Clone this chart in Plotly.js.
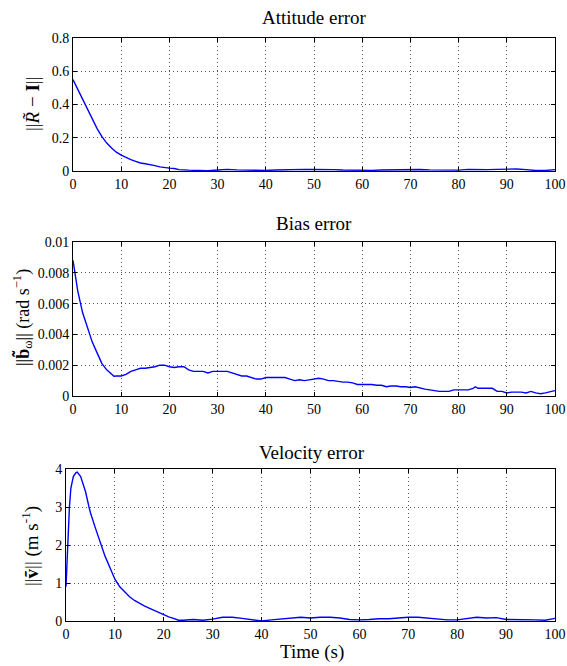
<!DOCTYPE html>
<html><head><meta charset="utf-8">
<script src="https://cdn.plot.ly/plotly-3.0.1.min.js"></script>
<style>html,body{margin:0;padding:0;background:#fff}#c{width:567px;height:666px}</style>
</head><body><div id="c"></div>
<script>
const attT = [0,1,2,3,4,5,6,7,8,9,10,11,12,13,14,15,16,17,18,19,20,21,22,24,26,28,30,32,34,36,38,40,42,44,46,48,50,52,54,56,58,60,62,64,66,68,70,72,74,76,78,80,82,84,86,88,90,92,94,96,98,100];
const attV = [0.55,0.49,0.43,0.37,0.31,0.255,0.207,0.168,0.138,0.113,0.095,0.08,0.068,0.058,0.048,0.044,0.040,0.032,0.025,0.020,0.017,0.015,0.008,0.005,0.004,0.002,0.006,0.010,0.007,0.005,0.003,0.003,0.006,0.008,0.012,0.010,0.009,0.010,0.008,0.006,0.004,0.003,0.004,0.006,0.007,0.009,0.010,0.009,0.007,0.005,0.004,0.005,0.010,0.008,0.008,0.010,0.012,0.012,0.008,0.003,0.003,0.008];

const biasT = [0,0.5,1,2,3,4,5,6,7,8,8.5,9,10,11,12,13,14,15,16,17,18,19,20,21,22,23,24,25,26,27,28,29,30,31,32,33,34,35,36,37,38,39,40,42,44,45,46,47,48,49,50,51,52,53,54,55,56,57,58,59,60,62,63,64,65,66,67,68,69,70,71,72,73,74,75,76,78,79,80,82,83,83.5,84,85,86,87,88,89,90,91,92,93,94,95,96,97,98,99,100];
const biasV = [0.0088,0.0079,0.0068,0.0054,0.0044,0.0035,0.0028,0.0021,0.0017,0.0014,0.00128,0.0013,0.0013,0.0014,0.0016,0.0017,0.0018,0.0018,0.00185,0.0019,0.0020,0.0020,0.0019,0.00185,0.0019,0.0019,0.0017,0.0016,0.0016,0.0016,0.0015,0.0016,0.0016,0.0016,0.0016,0.0015,0.0014,0.0013,0.0013,0.0012,0.0011,0.0011,0.0012,0.0012,0.0012,0.0011,0.0010,0.00105,0.0010,0.00105,0.0011,0.00115,0.0011,0.0010,0.0010,0.00095,0.0009,0.0009,0.00085,0.00075,0.00075,0.00075,0.0007,0.0007,0.0006,0.00065,0.00065,0.0006,0.0006,0.00055,0.0006,0.0005,0.00045,0.0004,0.00035,0.0003,0.0003,0.0004,0.0004,0.0004,0.0005,0.0006,0.0005,0.0005,0.0005,0.0005,0.0003,0.0003,0.0002,0.00025,0.00025,0.00025,0.0002,0.0003,0.0002,0.00015,0.0002,0.0003,0.00035];

const velT = [0,0.3,0.7,1,1.5,2,2.3,3,4,4.7,5,6,7,8,9,10,11,12,13,14,15,16,17,18,19,20,21,22,23,24,26,28,30,32,34,36,38,40,42,44,46,48,50,52,54,56,58,60,62,64,66,68,70,72,74,76,78,80,82,84,86,88,90,92,94,96,98,100];
const velV = [0.9,2.0,3.0,3.5,3.8,3.9,3.92,3.8,3.4,3.0,2.85,2.45,2.05,1.7,1.4,1.1,0.9,0.76,0.64,0.54,0.46,0.40,0.34,0.28,0.22,0.16,0.11,0.07,0.02,0.02,0.04,0.02,0.05,0.10,0.10,0.07,0.03,0.0,0.03,0.05,0.08,0.10,0.08,0.10,0.10,0.08,0.04,0.03,0.04,0.06,0.06,0.08,0.10,0.10,0.08,0.06,0.03,0.03,0.07,0.10,0.08,0.09,0.04,0.04,0.03,0.03,0.02,0.07];

const xTicks = [0,10,20,30,40,50,60,70,80,90,100];
const attTicks = [0,0.2,0.4,0.6,0.8];
const attTickText = ['0','0.2','0.4','0.6','0.8'];
const biasTicks = [0,0.002,0.004,0.006,0.008,0.01];
const biasTickText = ['0','0.002','0.004','0.006','0.008','0.01'];
const velTicks = [0,1,2,3,4];
const velTickText = ['0','1','2','3','4'];

const titles = ['Attitude error','Bias error','Velocity error'];
const yLabels = ['||<i>R̃</i> − <b>I</b>||','||<b>b̃</b><sub>ω</sub>|| (rad s<sup>−1</sup>)','||<b>ṽ</b>|| (m s<sup>-1</sup>)'];
const xLabel = 'Time (s)';

const F = 'Liberation Serif, serif';
const line = {color:'#0000ff', width:1.4};

const traces = [
  {x:attT, y:attV, type:'scatter', mode:'lines', line:line, xaxis:'x', yaxis:'y'},
  {x:biasT, y:biasV, type:'scatter', mode:'lines', line:line, xaxis:'x2', yaxis:'y2'},
  {x:velT, y:velV, type:'scatter', mode:'lines', line:line, xaxis:'x3', yaxis:'y3'}
];

function common(){
  return {ticks:'inside', ticklen:4, tickcolor:'#000',
    showline:true, linecolor:'#000', linewidth:1, mirror:'ticks', showgrid:true, gridcolor:'#555', griddash:'1px,3px', gridwidth:1,
    zeroline:false, tickfont:{family:F, size:14, color:'#000'}, fixedrange:true};
}
function xa(dom, anchor){
  return Object.assign(common(), {domain:dom, anchor:anchor, range:[0,100], tickvals:xTicks});
}
function ya(dom, anchor, rng, tv, tt){
  return Object.assign(common(), {domain:dom, anchor:anchor, range:rng, tickvals:tv, ticktext:tt});
}

const W=567, H=666;
const px = v => v/W, py = v => 1 - v/H;
function ann(text, x, y, size, angle){
  return {text:text, x:px(x), y:py(y), xref:'paper', yref:'paper', xanchor:'center', yanchor:'middle',
    showarrow:false, textangle:angle||0, font:{family:F, size:size, color:'#000'}};
}

const layout = {
  width:W, height:H, margin:{l:0,r:0,t:0,b:0}, showlegend:false,
  paper_bgcolor:'#fff', plot_bgcolor:'#fff', font:{family:F, color:'#000'},
  xaxis: xa([px(73),px(555)],'y'),
  yaxis: ya([py(171),py(38)],'x',[0,0.8],attTicks,attTickText),
  xaxis2: xa([px(73),px(555)],'y2'),
  yaxis2: ya([py(396),py(242)],'x2',[0,0.01],biasTicks,biasTickText),
  xaxis3: xa([px(66),px(555)],'y3'),
  yaxis3: ya([py(621),py(469)],'x3',[0,4],velTicks,velTickText),
  annotations: [
    ann(titles[0], 314, 18, 19),
    ann(titles[1], 314, 223, 19),
    ann(titles[2], 312, 452, 19),
    ann(xLabel, 312, 652, 19),
    ann(yLabels[0], 32, 104, 19, -90),
    ann(yLabels[1], 22, 318, 18, -90),
    ann(yLabels[2], 30, 546, 19, -90)
  ]
};

Plotly.newPlot('c', traces, layout, {displayModeBar:false, staticPlot:true});
</script></body></html>
